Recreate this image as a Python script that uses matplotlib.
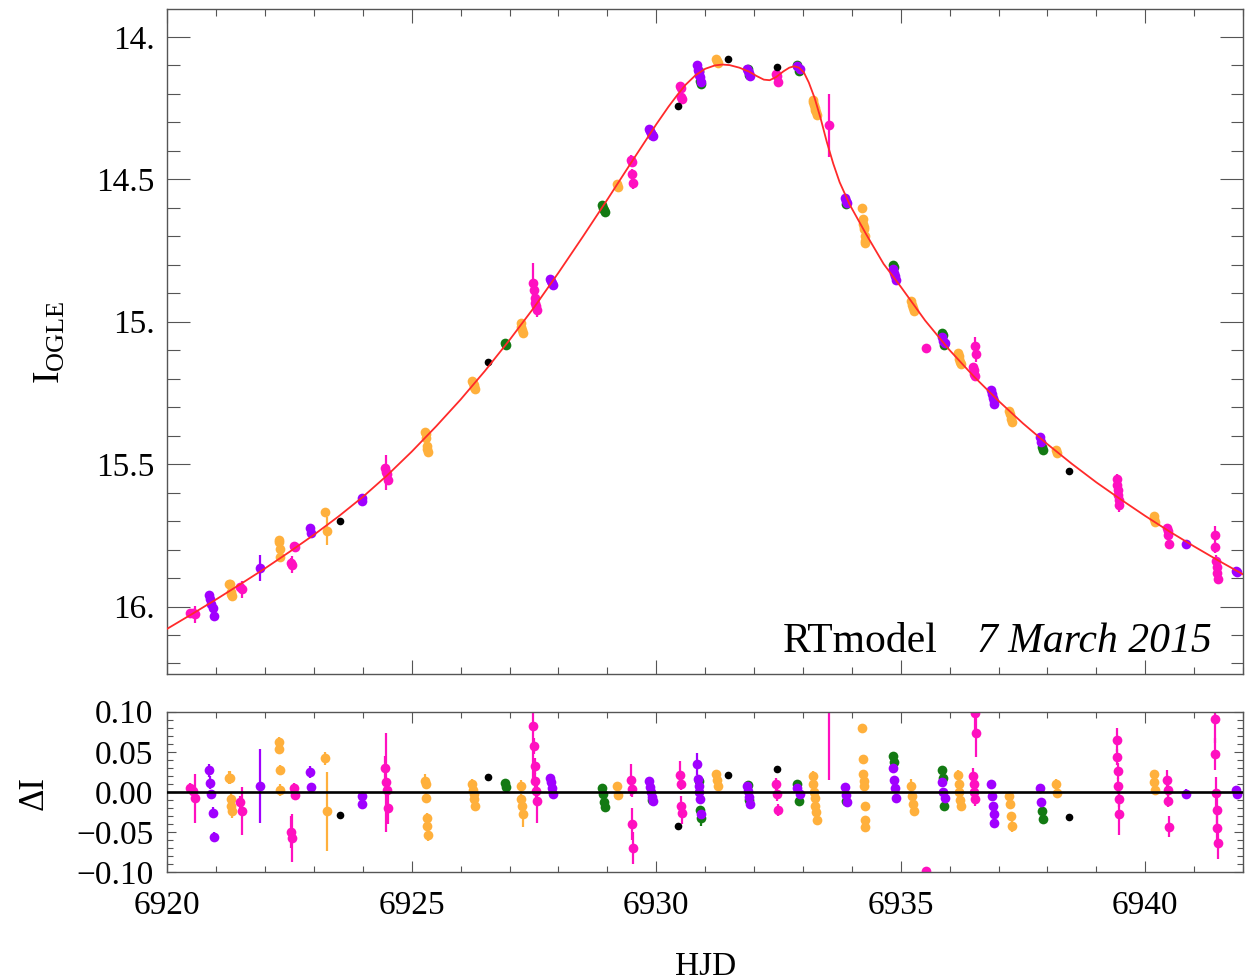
import numpy as np
import matplotlib
matplotlib.use("Agg")
import matplotlib.pyplot as plt
from matplotlib.ticker import MultipleLocator, FixedLocator, FixedFormatter

plt.rcParams['font.family'] = ['Liberation Serif', 'DejaVu Serif']
plt.rcParams['mathtext.fontset'] = 'custom'
plt.rcParams['mathtext.rm'] = 'Liberation Serif'
plt.rcParams['mathtext.it'] = 'Liberation Serif:italic'

# model curve
model_t = [6920.0, 6920.5, 6921.0, 6921.5, 6922.0, 6922.5, 6923.0, 6923.5, 6924.0, 6924.5,
           6925.0, 6925.5, 6926.0, 6926.5, 6927.0, 6927.5, 6928.0, 6928.5, 6929.0, 6929.5,
           6930.0, 6930.25, 6930.43, 6930.6, 6930.8, 6931.0, 6931.2, 6931.35, 6931.5, 6931.7,
           6931.9, 6932.05, 6932.2, 6932.32, 6932.45, 6932.6, 6932.72, 6932.82, 6932.92, 6933.02,
           6933.12, 6933.24, 6933.36, 6933.49, 6933.62, 6933.75, 6933.96, 6934.3, 6934.65, 6935.0,
           6935.5, 6936.0, 6936.5, 6937.0, 6937.5, 6938.0, 6938.5, 6939.0, 6939.5, 6940.0,
           6940.5, 6941.0, 6941.5, 6942.0]
model_mag = [16.078, 16.027, 15.975, 15.921, 15.866, 15.808, 15.748, 15.684, 15.615, 15.539,
             15.456, 15.367, 15.273, 15.172, 15.064, 14.950, 14.828, 14.701, 14.571, 14.438,
             14.307, 14.245, 14.204, 14.168, 14.135, 14.112, 14.100, 14.097, 14.099, 14.108,
             14.122, 14.137, 14.150, 14.152, 14.141, 14.121, 14.108, 14.103, 14.108, 14.125,
             14.160, 14.215, 14.285, 14.370, 14.445, 14.510, 14.590, 14.695, 14.797, 14.877,
             14.996, 15.100, 15.193, 15.278, 15.357, 15.430, 15.499, 15.564, 15.624, 15.682,
             15.737, 15.789, 15.839, 15.887]

# pink data set
pink_t = [6920.47, 6920.52, 6920.56, 6921.48, 6921.52, 6922.53, 6922.55, 6922.59, 6922.62,
          6924.45, 6924.47, 6924.49, 6924.51,
          6927.47, 6927.49, 6927.51, 6927.53, 6927.55, 6927.57,
          6929.48, 6929.50, 6929.51, 6929.52,
          6930.48, 6930.50, 6930.51, 6930.53,
          6932.44, 6932.46, 6932.48, 6933.53, 6935.52,
          6936.48, 6936.49, 6936.50, 6936.51, 6936.52, 6936.53,
          6939.42, 6939.43, 6939.44, 6939.45, 6939.46, 6939.47,
          6940.44, 6940.46, 6940.47, 6940.49,
          6941.42, 6941.43, 6941.45, 6941.46, 6941.47, 6941.48]
pink_mag = [16.023, 16.022, 16.027, 15.932, 15.939, 15.848, 15.853, 15.786, 15.792,
            15.514, 15.529, 15.535, 15.555,
            14.865, 14.89, 14.915, 14.933, 14.946, 14.958,
            14.433, 14.439, 14.483, 14.513,
            14.174, 14.18, 14.21, 14.217,
            14.13, 14.138, 14.158, 14.31, 15.093,
            15.16, 15.17, 15.183, 15.192, 15.085, 15.112,
            15.551, 15.572, 15.59, 15.609, 15.625, 15.644,
            15.723, 15.735, 15.749, 15.781,
            15.748, 15.792, 15.84, 15.861, 15.884, 15.902]
pink_res = [0.005, 0.001, -0.008, -0.013, -0.024, -0.050, -0.057, 0.005, -0.004,
            0.030, 0.012, 0.003, -0.020,
            0.0825, 0.0575, 0.0325, 0.014, 0.001, -0.011,
            0.0146, 0.004, -0.040, -0.070,
            0.021, 0.0104, -0.0175, -0.026,
            0.010, -0.003, -0.0225, 0.125, -0.098,
            0.020, 0.010, 0.0, -0.009, 0.099, 0.073,
            0.065, 0.044, 0.026, 0.0075, -0.009, -0.028,
            0.015, 0.003, -0.011, -0.043,
            0.091, 0.047, -0.001, -0.022, -0.045, -0.063]
pink_err = [0.006, 0.006, 0.030, 0.008, 0.030, 0.020, 0.030, 0.006, 0.004,
            0.015, 0.062, 0.010, 0.020,
            0.07, 0.01, 0.01, 0.01, 0.01, 0.027,
            0.02, 0.01, 0.02, 0.02,
            0.017, 0.008, 0.012, 0.014,
            0.008, 0.008, 0.008, 0.11, 0.005,
            0.01, 0.008, 0.006, 0.008, 0.03, 0.03,
            0.015, 0.01, 0.01, 0.01, 0.01, 0.025,
            0.012, 0.008, 0.008, 0.013,
            0.03, 0.02, 0.02, 0.02, 0.02, 0.02]

# purple data set
purple_t = [6920.86, 6920.88, 6920.90, 6920.93, 6920.96, 6921.90, 6922.92, 6922.93, 6923.98, 6923.99,
            6927.83, 6927.85, 6927.87, 6927.89,
            6929.86, 6929.88, 6929.90, 6929.92, 6929.94,
            6930.84, 6930.86, 6930.87, 6930.88, 6930.90, 6930.92,
            6931.85, 6931.87, 6931.90, 6931.92,
            6932.87, 6932.93, 6933.85, 6933.88, 6933.91,
            6934.84, 6934.86, 6934.88, 6934.90,
            6935.84, 6935.87, 6935.90,
            6936.85, 6936.87, 6936.88, 6936.90, 6936.91,
            6937.84, 6937.86, 6940.84, 6941.85, 6941.87]
purple_mag = [15.96, 15.975, 15.99, 16.006, 16.032, 15.866, 15.726, 15.743, 15.619, 15.628,
              14.85, 14.856, 14.863, 14.871,
              14.323, 14.331, 14.337, 14.343, 14.348,
              14.097, 14.116, 14.124, 14.132, 14.141, 14.16,
              14.114, 14.121, 14.128, 14.137,
              14.103, 14.111, 14.566, 14.576, 14.584,
              14.815, 14.83, 14.84, 14.853,
              15.054, 15.066, 15.073,
              15.24, 15.255, 15.268, 15.278, 15.288,
              15.405, 15.423, 15.779, 15.876, 15.88]
purple_res = [0.027, 0.0117, -0.003, -0.026, -0.056, 0.0075, 0.025, 0.0067, -0.005, -0.015,
              0.018, 0.012, 0.005, -0.003,
              0.014, 0.006, 0.0, -0.006, -0.011,
              0.035, 0.016, 0.008, 0.0, -0.009, -0.028,
              0.008, 0.001, -0.006, -0.015,
              0.005, -0.003, 0.006, -0.004, -0.012,
              0.030, 0.015, 0.005, -0.008,
              0.012, 0.0, -0.007,
              0.010, -0.005, -0.0175, -0.028, -0.038,
              0.0054, -0.013, -0.002, 0.002, -0.002]
purple_err = [0.008, 0.008, 0.006, 0.007, 0.006, 0.046, 0.008, 0.005, 0.005, 0.005,
              0.004, 0.004, 0.004, 0.004,
              0.004, 0.004, 0.004, 0.004, 0.004,
              0.014, 0.005, 0.005, 0.005, 0.005, 0.006,
              0.004, 0.004, 0.004, 0.004,
              0.004, 0.004, 0.004, 0.004, 0.004,
              0.004, 0.004, 0.004, 0.004,
              0.004, 0.004, 0.004,
              0.004, 0.004, 0.004, 0.005, 0.006,
              0.004, 0.004, 0.006, 0.004, 0.004]

# green data set
green_t = [6926.90, 6926.92, 6928.89, 6928.91, 6928.93, 6928.95, 6929.91,
           6930.87, 6930.90, 6930.92, 6931.87, 6931.90, 6932.88, 6932.92, 6933.89,
           6934.85, 6934.86, 6935.85, 6935.86, 6935.88, 6937.89, 6937.91]
green_mag = [15.076, 15.081, 14.591, 14.599, 14.608, 14.615, 14.345,
             14.118, 14.154, 14.164, 14.113, 14.132, 14.098, 14.119, 14.586,
             14.80, 14.808, 15.038, 15.048, 15.083, 15.439, 15.449]
green_res = [0.011, 0.006, 0.005, -0.003, -0.012, -0.019, -0.010,
             0.014, -0.022, -0.032, 0.009, -0.010, 0.010, -0.011, -0.011,
             0.045, 0.037, 0.028, 0.018, -0.0175, -0.024, -0.034]
green_err = [0.004, 0.004, 0.004, 0.004, 0.004, 0.004, 0.004,
             0.004, 0.004, 0.010, 0.004, 0.004, 0.004, 0.004, 0.004,
             0.004, 0.004, 0.004, 0.004, 0.004, 0.004, 0.004]

# orange data set
orange_t = [6921.27, 6921.29, 6921.30, 6921.31, 6921.33,
            6922.28, 6922.29, 6922.30, 6922.31, 6923.22, 6923.26,
            6925.28, 6925.29, 6925.30, 6925.31, 6925.32, 6925.34,
            6926.24, 6926.26, 6926.27, 6926.28, 6926.30,
            6927.23, 6927.24, 6927.26, 6927.27, 6929.19, 6929.21,
            6931.22, 6931.24, 6931.27,
            6933.20, 6933.21, 6933.23, 6933.24, 6933.25, 6933.26, 6933.28,
            6934.21, 6934.22, 6934.23, 6934.24, 6934.25, 6934.26, 6934.26, 6934.27,
            6935.22, 6935.24, 6935.25, 6935.27,
            6936.17, 6936.19, 6936.20, 6936.21, 6936.23,
            6937.21, 6937.23, 6937.25, 6937.27, 6938.18, 6938.20,
            6940.17, 6940.19, 6940.21]
orange_mag = [15.921, 15.921, 15.948, 15.957, 15.963,
              15.765, 15.773, 15.799, 15.825, 15.669, 15.735,
              15.389, 15.393, 15.41, 15.435, 15.446, 15.456,
              15.209, 15.216, 15.222, 15.228, 15.237,
              15.003, 15.019, 15.028, 15.038, 14.515, 14.526,
              14.078, 14.085, 14.093,
              14.22, 14.23, 14.24, 14.248, 14.258, 14.265, 14.275,
              14.60, 14.639, 14.658, 14.666, 14.673, 14.698, 14.715, 14.723,
              14.929, 14.942, 14.952, 14.961,
              15.109, 15.12, 15.13, 15.14, 15.148,
              15.315, 15.325, 15.34, 15.352, 15.45, 15.461,
              15.682, 15.692, 15.702]
orange_res = [0.018, 0.018, -0.009, -0.0175, -0.024,
              0.0625, 0.054, 0.028, 0.0025, 0.042, -0.024,
              0.014, 0.010, -0.007, -0.032, -0.0425, -0.053,
              0.010, 0.003, -0.003, -0.009, -0.0175,
              0.007, -0.009, -0.0175, -0.028, 0.007, -0.004,
              0.022, 0.015, 0.007,
              0.020, 0.010, 0.0, -0.008, -0.0175, -0.025, -0.035,
              0.080, 0.041, 0.022, 0.014, 0.0075, -0.0175, -0.035, -0.043,
              0.008, -0.005, -0.015, -0.024,
              0.021, 0.010, 0.0, -0.010, -0.0175,
              -0.005, -0.015, -0.030, -0.042, 0.0096, -0.001,
              0.023, 0.013, 0.003]
orange_err = [0.008, 0.008, 0.008, 0.008, 0.008,
              0.006, 0.006, 0.006, 0.008, 0.008, 0.049,
              0.008, 0.006, 0.006, 0.006, 0.006, 0.008,
              0.006, 0.006, 0.006, 0.006, 0.006,
              0.008, 0.006, 0.006, 0.015, 0.006, 0.006,
              0.005, 0.005, 0.005,
              0.006, 0.005, 0.005, 0.005, 0.005, 0.005, 0.006,
              0.005, 0.005, 0.005, 0.005, 0.005, 0.005, 0.005, 0.005,
              0.008, 0.005, 0.005, 0.005,
              0.006, 0.005, 0.005, 0.005, 0.005,
              0.005, 0.005, 0.005, 0.008, 0.006, 0.006,
              0.005, 0.005, 0.005]

# black data set
black_t = [6923.54, 6926.56, 6930.44, 6931.46, 6932.46, 6938.44]
black_mag = [15.701, 15.14, 14.244, 14.078, 14.106, 15.525]
black_res = [-0.029, 0.019, -0.042, 0.021, 0.029, -0.031]
black_err = [0.003, 0.003, 0.003, 0.003, 0.003, 0.003]

datasets = [
    (green_t, green_mag, green_res, green_err, '#137a13', 7),
    (purple_t, purple_mag, purple_res, purple_err, '#a000ff', 7),
    (orange_t, orange_mag, orange_res, orange_err, '#ffb03c', 7),
    (pink_t, pink_mag, pink_res, pink_err, '#ff10c0', 7),
    (black_t, black_mag, black_res, black_err, 'black', 5.5),
]

W, H = 1253, 980
fig = plt.figure(figsize=(W / 100, H / 100), dpi=100)
x0, x1 = 167.3, 1243.0
ax1 = fig.add_axes([x0 / W, 1 - 674 / H, (x1 - x0) / W, (674 - 9.3) / H])
ax2 = fig.add_axes([x0 / W, 1 - 872.3 / H, (x1 - x0) / W, (872.3 - 711.7) / H])

for t, m, r, e, c, ms in datasets:
    ax1.errorbar(t, m, yerr=e, fmt='o', color=c, ms=ms, mew=0, elinewidth=1.6, capsize=0, zorder=2)
    ax2.errorbar(t, r, yerr=e, fmt='o', color=c, ms=ms, mew=0, elinewidth=1.6, capsize=0, zorder=2)

ax1.plot(model_t, model_mag, color='#ff2a2a', lw=1.3, zorder=3)
ax2.axhline(0, color='black', lw=1.9, zorder=3)

ax1.set_xlim(6920, 6942)
ax1.set_ylim(16.237, 13.903)
ax2.set_xlim(6920, 6942)
ax2.set_ylim(-0.1, 0.1)

xt = [6920, 6925, 6930, 6935, 6940]
for ax in (ax1, ax2):
    ax.xaxis.set_major_locator(FixedLocator(xt))
    ax.xaxis.set_minor_locator(MultipleLocator(1))
    for s in ax.spines.values():
        s.set_color('#555555')
        s.set_linewidth(1.0)

ax1.yaxis.set_major_locator(FixedLocator([14, 14.5, 15, 15.5, 16]))
ax1.yaxis.set_major_formatter(FixedFormatter(['14.', '14.5', '15.', '15.5', '16.']))
ax1.yaxis.set_minor_locator(MultipleLocator(0.1))
ax1.set_xticklabels([])

ax2.yaxis.set_major_locator(FixedLocator([-0.1, -0.05, 0, 0.05, 0.1]))
ax2.yaxis.set_major_formatter(FixedFormatter(['\u22120.10', '\u22120.05', '0.00', '0.05', '0.10']))
ax2.yaxis.set_minor_locator(MultipleLocator(0.01))
ax2.xaxis.set_major_formatter(FixedFormatter([str(v) for v in xt]))

kw = dict(direction='in', color='#555555', width=0.8, left=True, right=True, top=True, bottom=True)
ax1.tick_params(axis='y', which='major', length=16.5, labelsize=24, pad=9, **kw)
ax1.tick_params(axis='y', which='minor', length=9, **kw)
ax1.tick_params(axis='x', which='major', length=10, **kw)
ax1.tick_params(axis='x', which='minor', length=5, **kw)
ax2.tick_params(axis='y', which='major', length=6.5, labelsize=24, pad=10, **kw)
ax2.tick_params(axis='y', which='minor', length=4.3, **kw)
ax2.tick_params(axis='x', which='major', length=8, labelsize=24, pad=13, **kw)
ax2.tick_params(axis='x', which='minor', length=4.3, **kw)

ax1.text(0.5724, 0.033, 'RTmodel', transform=ax1.transAxes, fontsize=30, ha='left', va='baseline')
ax1.text(0.971, 0.033, '7 March 2015', transform=ax1.transAxes, fontsize=30, style='italic',
         ha='right', va='baseline')

fig.text(50 / W, 1 - 342 / H, r'$\mathrm{I}_{\mathrm{OGLE}}$', fontsize=27, rotation=90,
         ha='center', va='center')
fig.text(34 / W, 1 - 793 / H, '\u0394I', fontsize=25, rotation=90, ha='center', va='center')
fig.text(706 / W, 1 - 975 / H, 'HJD', fontsize=24, ha='center', va='baseline')

fig.savefig('out.png', dpi=100)
